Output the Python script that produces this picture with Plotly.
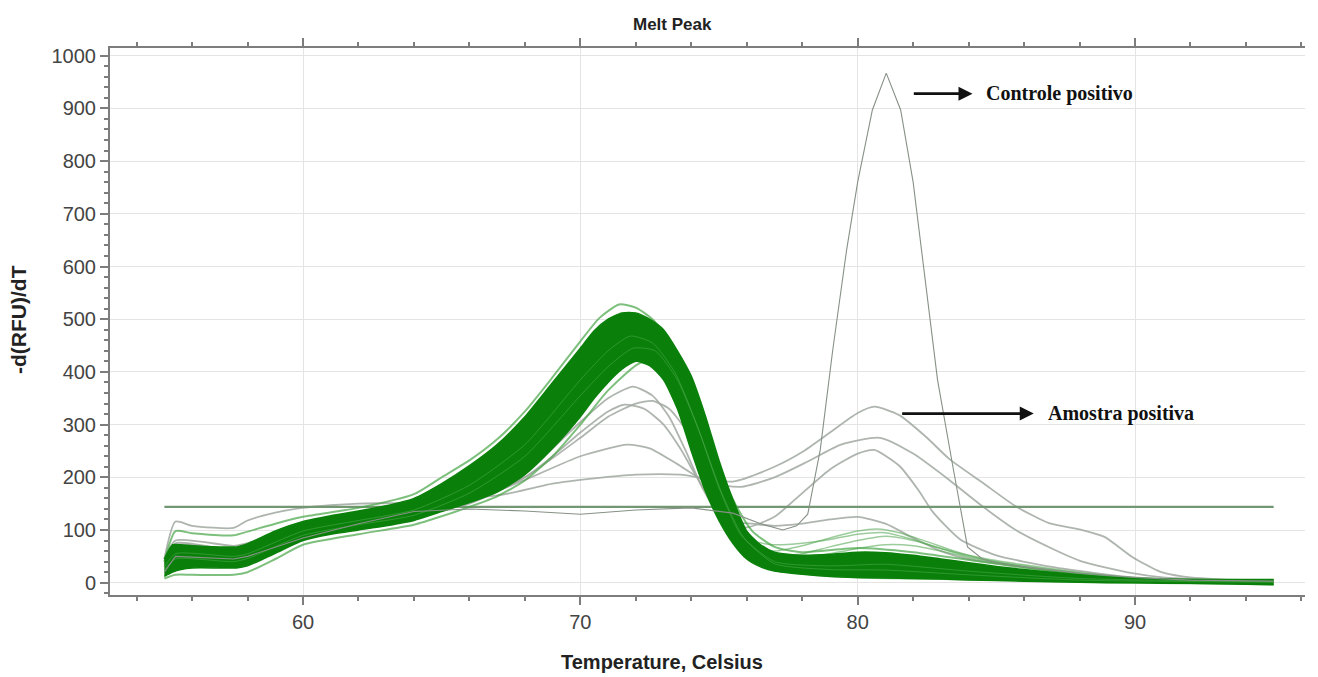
import plotly.graph_objects as go

# ---------------- data ----------------
temps = [55.0, 55.3, 55.6, 56.0, 57.0, 57.6, 58.0, 59.0, 60.0, 61.0, 62.0, 63.0, 64.0, 65.0,
         66.0, 67.0, 68.0, 69.0, 70.0, 70.5, 71.0, 71.5, 72.0, 72.5, 73.0, 73.5, 74.0, 74.5,
         75.0, 75.5, 76.0, 76.5, 77.0, 78.0, 79.0, 80.0, 81.0, 82.0, 83.0, 84.0, 85.0, 86.0,
         87.0, 88.0, 89.0, 90.0, 91.0, 92.0, 93.0, 94.0, 95.0]
band_upper = [45, 72, 72, 70, 68, 68, 74, 98, 116, 127, 136, 146, 160, 188,
              222, 262, 315, 380, 445, 478, 500, 512, 512, 500, 480, 440, 392, 318,
              232, 158, 98, 72, 58, 52, 54, 58, 57, 52, 45, 38, 31, 25,
              20, 15, 11, 8, 7, 6, 6, 6, 6]
band_lower = [12, 20, 25, 28, 28, 28, 32, 56, 80, 92, 100, 108, 118, 135,
              152, 172, 205, 255, 315, 350, 380, 405, 420, 412, 385, 330, 250, 175,
              118, 75, 45, 30, 22, 16, 12, 10, 9, 8, 7, 5, 4, 3,
              2, 1, 0, 0, -1, -1, -2, -3, -4]

# light green edge curves of the band
edge_top_t = [55, 55.4, 56, 57.5, 58, 59, 60, 62, 64, 65, 66, 67, 68, 69, 70, 70.7, 71.4, 72,
              72.6, 73.2, 73.8, 74.4, 75, 75.6, 76.2, 77, 78, 80, 82, 85, 88, 91, 95]
edge_top_v = [40, 98, 94, 90, 97, 112, 125, 142, 168, 200, 232, 272, 325, 390, 458, 503, 528, 522,
              500, 458, 392, 305, 218, 148, 98, 68, 58, 66, 58, 36, 15, 7, 5]
edge_low_t = [55, 55.4, 56, 57.5, 58, 59, 60, 62, 64, 65, 66, 67, 68, 69, 70, 71, 72.2, 72.8,
              73.4, 74, 74.6, 75.2, 75.8, 76.4, 77, 78, 80, 82, 85, 90, 95]
edge_low_v = [8, 15, 15, 15, 20, 45, 72, 92, 110, 126, 144, 164, 194, 240, 300, 365, 418, 405,
              365, 290, 205, 135, 82, 48, 30, 18, 10, 8, 5, 0, -3]
inner_a_t = [55, 55.4, 57.5, 58, 60, 62, 64, 66, 68, 70, 71, 71.8, 72.6, 73.4, 74.2, 75, 75.8, 77, 79, 81, 84, 88, 95]
inner_a_v = [30, 55, 50, 55, 98, 118, 138, 185, 262, 385, 440, 468, 455, 400, 300, 180, 90, 40, 32, 35, 22, 8, 2]
inner_b_t = [55, 55.4, 57.5, 58, 60, 62, 64, 66, 68, 70, 71, 71.9, 72.7, 73.5, 74.3, 75.1, 75.9, 77, 79, 81, 84, 88, 95]
inner_b_v = [25, 45, 40, 46, 90, 110, 128, 170, 240, 355, 410, 445, 440, 385, 285, 170, 85, 36, 25, 24, 15, 5, 1]

# tail curves with a small bump near 80-81 °C
tail1_t = [76, 77, 78, 79, 80, 80.7, 81.5, 82.5, 83.5, 84.5, 86, 88, 90, 92, 95]
tail1_v = [70, 60, 70, 85, 98, 102, 95, 78, 60, 45, 30, 17, 8, 4, 2]
tail2_t = [76, 77, 78, 79, 80, 81, 82, 83, 84, 85, 86, 88, 90, 92, 95]
tail2_v = [60, 50, 55, 68, 80, 88, 80, 65, 52, 42, 34, 20, 9, 4, 2]
tail3_t = [76, 77, 78, 79, 80, 81, 82, 83, 84, 86, 88, 90, 95]
tail3_v = [55, 42, 45, 55, 65, 72, 70, 60, 48, 30, 16, 7, 2]
tail4_t = [76, 77, 78, 79, 80, 81, 82, 83, 84, 85, 86, 87, 88, 90, 95]
tail4_v = [80, 72, 75, 82, 92, 95, 82, 65, 50, 40, 32, 25, 18, 8, 2]

# gray sample curves
gray_a_t = [55, 55.4, 57.5, 58, 60, 62, 64, 66, 68, 69, 70, 71, 71.9, 72.6, 73.2, 73.8, 74.4, 75,
            75.6, 76.2, 77, 78, 79, 80, 81, 82, 83, 84, 86, 88, 90, 95]
gray_a_v = [30, 70, 60, 68, 100, 115, 135, 160, 210, 255, 305, 350, 372, 355, 315, 250, 180, 130,
            115, 112, 108, 112, 120, 125, 112, 85, 60, 45, 30, 18, 8, 2]
gray_b_t = [55, 55.4, 57.5, 58, 60, 62, 64, 66, 68, 69, 70, 71, 71.6, 72.3, 73, 73.6, 74.2, 74.8,
            75.4, 76, 77, 78, 79, 80, 80.6, 81.5, 82.2, 82.7, 83.7, 85, 87, 90, 95]
gray_b_v = [40, 75, 62, 70, 100, 115, 132, 155, 200, 240, 285, 325, 338, 330, 300, 255, 200, 150,
            115, 105, 125, 170, 215, 245, 252, 222, 175, 135, 82, 52, 30, 10, 2]
gray_c_t = [55, 55.4, 57.5, 58, 60, 62, 64, 66, 68, 70, 71.7, 72.5, 73.5, 74.6, 75.8, 77, 78.2,
            79.4, 80.8, 82, 83.3, 84.5, 85.7, 87, 88.1, 89.9, 91, 93, 95]
gray_c_v = [45, 80, 70, 75, 105, 120, 135, 155, 195, 240, 262, 255, 225, 190, 182, 200, 230,
            262, 275, 245, 195, 145, 100, 65, 40, 18, 10, 5, 2]
gray_d_t = [55, 55.4, 56, 57.5, 58, 59, 60, 61, 62, 64, 66, 67.3, 69, 70.5, 72, 73.6, 75.5, 77,
            78, 79, 80, 80.6, 81.5, 82.5, 83.3, 84.5, 85.7, 86.9, 88.1, 88.9, 89.9, 90.9, 91.7, 93.5, 95]
gray_d_v = [45, 116, 108, 104, 118, 133, 142, 147, 150, 152, 160, 168, 188, 198, 205, 205, 192, 220,
            248, 285, 322, 334, 318, 275, 235, 190, 145, 113, 100, 87, 49, 21, 12, 5, 3]
gray_e_t = [55, 55.4, 57.5, 58, 60, 62, 64, 66, 68, 70, 71, 72, 72.6, 73.2, 73.8, 74.4, 75, 75.6,
            76.2, 77, 78, 80, 82, 85, 90, 95]
gray_e_v = [35, 72, 62, 68, 98, 112, 128, 150, 200, 275, 315, 340, 345, 330, 290, 220, 150, 95,
            62, 45, 38, 40, 35, 22, 6, 2]

# positive control
control_t = [55, 55.4, 57.5, 58, 60, 62, 64, 66, 68, 70, 72, 74, 75.5, 76.5, 77.3, 77.8, 78.2, 78.65,
             79.1, 79.6, 80.0, 80.53, 81.03, 81.55, 82.0, 82.3, 82.88, 83.4, 83.96, 84.5, 85, 86, 88, 90, 92, 95]
control_v = [20, 50, 45, 50, 85, 112, 135, 140, 136, 130, 138, 142, 132, 112, 100, 108, 130, 252,
             441, 631, 760, 897, 967, 897, 760, 631, 385, 230, 68, 45, 38, 30, 18, 10, 5, 3]

threshold_t = [55, 95]
threshold_v = [144, 144]

x_ticks = [60, 70, 80, 90]
y_ticks = [0, 100, 200, 300, 400, 500, 600, 700, 800, 900, 1000]

# ---------------- figure ----------------
fig = go.Figure()

GRAY = "rgba(160,168,160,0.85)"
for t, v in [(gray_d_t, gray_d_v), (gray_c_t, gray_c_v), (gray_b_t, gray_b_v),
             (gray_a_t, gray_a_v), (gray_e_t, gray_e_v)]:
    fig.add_trace(go.Scatter(x=t, y=v, mode="lines", line=dict(color=GRAY, width=1.8, shape="spline", smoothing=0.6),
                             hoverinfo="skip", showlegend=False))

fig.add_trace(go.Scatter(x=threshold_t, y=threshold_v, mode="lines",
                         line=dict(color="rgb(115,150,115)", width=2.2), showlegend=False, hoverinfo="skip"))

for t, v in [(tail1_t, tail1_v), (tail2_t, tail2_v), (tail3_t, tail3_v), (tail4_t, tail4_v)]:
    fig.add_trace(go.Scatter(x=t, y=v, mode="lines",
                             line=dict(color="rgba(90,170,90,0.6)", width=1.5, shape="spline", smoothing=0.6),
                             hoverinfo="skip", showlegend=False))

for t, v in [(edge_top_t, edge_top_v), (edge_low_t, edge_low_v)]:
    fig.add_trace(go.Scatter(x=t, y=v, mode="lines",
                             line=dict(color="rgba(70,165,70,0.7)", width=2, shape="spline", smoothing=0.6),
                             hoverinfo="skip", showlegend=False))

GREEN = "rgb(10,128,10)"
fig.add_trace(go.Scatter(x=temps, y=band_lower, mode="lines",
                         line=dict(color=GREEN, width=1.5, shape="spline", smoothing=0.6),
                         hoverinfo="skip", showlegend=False))
fig.add_trace(go.Scatter(x=temps, y=band_upper, mode="lines", fill="tonexty", fillcolor=GREEN,
                         line=dict(color=GREEN, width=1.5, shape="spline", smoothing=0.6),
                         hoverinfo="skip", showlegend=False))

for t, v in [(inner_a_t, inner_a_v), (inner_b_t, inner_b_v)]:
    fig.add_trace(go.Scatter(x=t, y=v, mode="lines",
                             line=dict(color="rgba(90,180,90,0.45)", width=1, shape="spline", smoothing=0.6),
                             hoverinfo="skip", showlegend=False))

fig.add_trace(go.Scatter(x=control_t, y=control_v, mode="lines",
                         line=dict(color="rgb(135,145,135)", width=1.1),
                         hoverinfo="skip", showlegend=False))

axis_col = "rgb(125,125,125)"
fig.update_layout(
    width=1318, height=677,
    margin=dict(l=110, r=13, t=48, b=82, autoexpand=False),
    paper_bgcolor="white", plot_bgcolor="white",
    font=dict(family="Liberation Sans, Arial, sans-serif"),
)
fig.update_xaxes(range=[53.04, 96.13], tickvals=x_ticks, ticktext=[str(v) for v in x_ticks],
                 automargin=False,
                 showgrid=True, gridcolor="rgb(228,228,228)", gridwidth=1,
                 showline=True, linecolor=axis_col, linewidth=2, mirror="ticks",
                 ticks="outside", ticklen=8, tickcolor=axis_col, tickwidth=1.5,
                 minor=dict(dtick=2, tick0=0, ticks="outside", ticklen=4, tickcolor=axis_col, showgrid=False),
                 tickfont=dict(size=20, color="#444"), zeroline=False)
fig.update_yaxes(range=[-23.3, 1014.6], tickvals=y_ticks, ticktext=[str(v) for v in y_ticks],
                 automargin=False,
                 showgrid=True, gridcolor="rgb(228,228,228)", gridwidth=1,
                 showline=True, linecolor=axis_col, linewidth=2,
                 ticks="outside", ticklen=8, tickcolor=axis_col, tickwidth=1.5,
                 minor=dict(dtick=20, tick0=0, ticks="outside", ticklen=4, tickcolor=axis_col, showgrid=False),
                 tickfont=dict(size=20, color="#444"), zeroline=False)

fig.add_annotation(text="<b>Melt Peak</b>", xref="paper", yref="paper", x=(672 - 110) / 1195, y=1 + (48 - 25) / 547,
                   showarrow=False, xanchor="center", yanchor="middle",
                   font=dict(size=17, color="#222"))
fig.add_annotation(text="<b>Temperature, Celsius</b>", xref="paper", yref="paper", x=(662 - 110) / 1195,
                   y=(595 - 662) / 547,
                   showarrow=False, xanchor="center", yanchor="middle",
                   font=dict(size=20, color="#222"))
fig.add_annotation(text="<b>-d(RFU)/dT</b>", xref="paper", yref="paper", x=(18 - 110) / 1195, y=(595 - 320) / 547,
                   showarrow=False, textangle=-90, xanchor="center", yanchor="middle",
                   font=dict(size=21, color="#222"))

# arrows
fig.add_annotation(x=84.14, y=928, ax=81.97, ay=928, xref="x", yref="y", axref="x", ayref="y",
                   text="", showarrow=True, arrowhead=2, arrowsize=1, arrowwidth=2.8, arrowcolor="#111")
fig.add_annotation(x=84.54, y=928, xref="x", yref="y", text="<b>Controle positivo</b>", showarrow=False,
                   xanchor="left", yanchor="middle",
                   font=dict(family="Liberation Serif, Times New Roman, serif", size=20, color="#111"))
fig.add_annotation(x=86.35, y=321, ax=81.55, ay=321, xref="x", yref="y", axref="x", ayref="y",
                   text="", showarrow=True, arrowhead=2, arrowsize=1, arrowwidth=2.8, arrowcolor="#111")
fig.add_annotation(x=86.78, y=321, xref="x", yref="y", text="<b>Amostra positiva</b>", showarrow=False,
                   xanchor="left", yanchor="middle",
                   font=dict(family="Liberation Serif, Times New Roman, serif", size=20, color="#111"))

fig.write_html("out.html", config={"displayModeBar": False},
               post_script="document.body.style.margin='0';document.body.style.overflow='hidden';")
